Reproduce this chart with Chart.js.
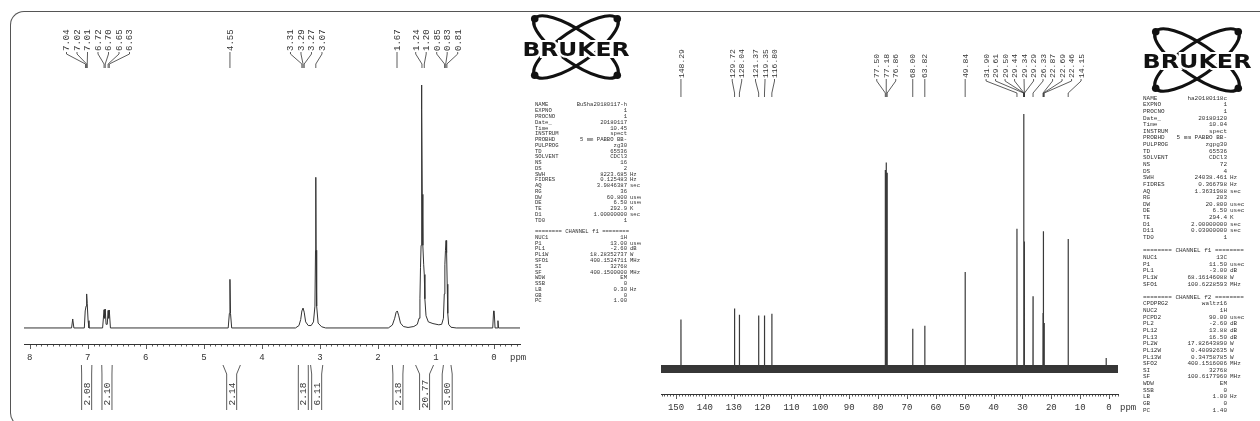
<!DOCTYPE html>
<html>
<head>
<meta charset="utf-8">
<script src="https://cdn.jsdelivr.net/npm/chart.js@4.4.0/dist/chart.umd.min.js"></script>
<style>
html, body { margin: 0; padding: 0; background: #fff; }
body { width: 1260px; height: 421px; position: relative; overflow: hidden; }
#frame { position: absolute; left: 10px; top: 11px; width: 1260px; height: 414px; border: 1.4px solid #555; border-right: none; border-radius: 14px 0 0 14px; }
canvas { position: absolute; top: 0; }
</style>
</head>
<body>
<div id="frame"></div>
<canvas id="deco" width="1260" height="421" style="left:0"></canvas>
<canvas id="proton" width="530" height="421" style="left:0"></canvas>
<canvas id="carbon" width="500" height="421" style="left:640px"></canvas>
<script>
// 1H spectrum, vertices (ppm / relative intensity)
const hPpm = [8.10, 7.28, 7.26, 7.24, 7.06, 7.045, 7.03, 7.02, 7.01, 6.995, 6.98,
  6.745, 6.72, 6.71, 6.70, 6.685, 6.665, 6.65, 6.64, 6.63, 6.61,
  4.58, 4.56, 4.55, 4.54, 4.52,
  3.42, 3.36, 3.33, 3.31, 3.29, 3.27, 3.245, 3.20, 3.15, 3.11, 3.085, 3.075, 3.07, 3.065, 3.055, 3.03, 2.97, 2.90,
  1.82, 1.75, 1.71, 1.685, 1.665, 1.64, 1.61, 1.56, 1.48,
  1.38, 1.32, 1.29, 1.275, 1.265, 1.255, 1.25, 1.245, 1.24, 1.235, 1.225, 1.21, 1.20, 1.19, 1.17, 1.13, 1.05, 0.95, 0.90,
  0.87, 0.855, 0.845, 0.835, 0.825, 0.815, 0.805, 0.795, 0.78, 0.74, 0.65,
  0.02, 0.005, -0.005, -0.02, -0.06, -0.07, -0.08, -0.45];
const hInt = [0, 0, 3.7, 0, 0, 7, 9, 14, 10, 3, 0,
  0, 7.5, 4, 7.8, 1.5, 1.5, 7.2, 4, 7.4, 0,
  0, 6, 20, 6, 0,
  0, 1, 3.5, 7, 8.2, 6.5, 2.5, 1, 1, 2.5, 9, 32, 62, 32, 9, 2, 0.5, 0,
  0, 1.2, 4, 6.5, 7, 5, 2, 0.6, 0.2,
  0.6, 1.5, 4, 12, 25, 34, 60, 100, 90, 55, 34, 26, 22, 12, 5, 2.5, 1.8, 1.3, 1.5,
  4, 14, 26, 32, 36, 31, 18, 6, 1.5, 0.3, 0,
  0, 7, 7, 0, 0, 3, 0, 0];
const hPeakLabels = [7.04, 7.02, 7.01, 6.72, 6.70, 6.65, 6.63, 4.55, 3.31, 3.29, 3.27, 3.07, 1.67, 1.24, 1.20, 0.85, 0.83, 0.81];
const hIntFrom = [7.11, 6.76, 4.67, 3.37, 3.16, 1.75, 1.35, 0.87];
const hIntTo = [6.93, 6.58, 4.37, 3.20, 2.95, 1.56, 1.04, 0.74];
const hIntValues = ['2.08', '2.10', '2.14', '2.18', '6.11', '2.18', '20.77', '3.00'];
const hTicks = [8, 7, 6, 5, 4, 3, 2, 1, 0];

// 13C spectrum, peak lines
const cShift = [148.29, 129.72, 128.04, 121.37, 119.35, 116.80, 77.50, 77.18, 76.86, 68.00, 63.82, 49.84,
  31.90, 29.61, 29.50, 29.44, 29.34, 29.29, 26.33, 22.87, 22.69, 22.46, 14.15, 1.0];
const cHeight = [19.4, 23.7, 21.3, 21, 21, 21.7, 78, 81, 77, 15.8, 17, 38,
  55, 100, 57, 45, 50, 40, 28.5, 22, 54, 18, 51, 4.3];
const cPeakLabels = [148.29, 129.72, 128.04, 121.37, 119.35, 116.80, 77.50, 77.18, 76.86, 68.00, 63.82, 49.84,
  31.90, 29.61, 29.50, 29.44, 29.34, 29.29, 26.33, 22.87, 22.69, 22.46, 14.15];
const cTicks = [150, 140, 130, 120, 110, 100, 90, 80, 70, 60, 50, 40, 30, 20, 10, 0];

const leftParams = ['NAME|BuSha20180117-h|', 'EXPNO|1|', 'PROCNO|1|', 'Date_|20180117|', 'Time|10.45|',
  'INSTRUM|spect|', 'PROBHD|5 mm PABBO BB-|', 'PULPROG|zg30|', 'TD|65536|', 'SOLVENT|CDCl3|', 'NS|16|', 'DS|2|',
  'SWH|8223.685|Hz', 'FIDRES|0.125483|Hz', 'AQ|3.9846387|sec', 'RG|36|', 'DW|60.800|usec', 'DE|6.50|usec',
  'TE|292.9|K', 'D1|1.00000000|sec', 'TD0|1|', '', '======== CHANNEL f1 ========',
  'NUC1|1H|', 'P1|13.00|usec', 'PL1|-2.60|dB', 'PL1W|18.28352737|W', 'SFO1|400.1524711|MHz', 'SI|32768|',
  'SF|400.1500000|MHz', 'WDW|EM|', 'SSB|0|', 'LB|0.30|Hz', 'GB|0|', 'PC|1.00|'];
const rightParams = ['NAME|ha20180118c|', 'EXPNO|1|', 'PROCNO|1|', 'Date_|20180120|', 'Time|10.04|',
  'INSTRUM|spect|', 'PROBHD|5 mm PABBO BB-|', 'PULPROG|zgpg30|', 'TD|65536|', 'SOLVENT|CDCl3|', 'NS|72|', 'DS|4|',
  'SWH|24038.461|Hz', 'FIDRES|0.366798|Hz', 'AQ|1.3631988|sec', 'RG|203|', 'DW|20.800|usec', 'DE|6.50|usec',
  'TE|294.4|K', 'D1|2.00000000|sec', 'D11|0.03000000|sec', 'TD0|1|', '', '======== CHANNEL f1 ========',
  'NUC1|13C|', 'P1|11.50|usec', 'PL1|-3.00|dB', 'PL1W|68.16146088|W', 'SFO1|100.6228593|MHz', '',
  '======== CHANNEL f2 ========', 'CPDPRG2|waltz16|', 'NUC2|1H|', 'PCPD2|90.00|usec', 'PL2|-2.60|dB',
  'PL12|13.88|dB', 'PL13|16.50|dB', 'PL2W|17.82643890|W', 'PL12W|0.40092635|W', 'PL13W|0.34758785|W',
  'SFO2|400.1516006|MHz', 'SI|32768|', 'SF|100.6177960|MHz', 'WDW|EM|', 'SSB|0|', 'LB|1.00|Hz', 'GB|0|', 'PC|1.40|'];

const ink = '#333';
const mono = '"Liberation Mono", "DejaVu Sans Mono", monospace';

// spread overlapping labels into centred groups
function spread(xs, gap) {
  const groups = xs.map(x => ({ sum: x, n: 1 }));
  let changed = true;
  while (changed) {
    changed = false;
    for (let i = 0; i < groups.length - 1; i++) {
      const a = groups[i], b = groups[i + 1];
      const aEnd = a.sum / a.n + (a.n - 1) * gap / 2;
      const bStart = b.sum / b.n - (b.n - 1) * gap / 2;
      if (bStart - aEnd < gap) {
        a.sum += b.sum; a.n += b.n;
        groups.splice(i + 1, 1);
        changed = true;
        break;
      }
    }
  }
  const out = [];
  groups.forEach(g => {
    const start = g.sum / g.n - (g.n - 1) * gap / 2;
    for (let k = 0; k < g.n; k++) out.push(start + k * gap);
  });
  return out;
}

function decorPlugin(cfg) {
  return {
    id: 'decor',
    afterDraw(chart) {
      const ctx = chart.ctx, xs = chart.scales.x, area = chart.chartArea;
      ctx.save();
      ctx.strokeStyle = ink;
      ctx.fillStyle = ink;
      ctx.lineWidth = 0.8;

      // axis ticks
      const first = Math.ceil(xs.min / cfg.minor), last = Math.floor(xs.max / cfg.minor);
      ctx.beginPath();
      for (let i = first; i <= last; i++) {
        const v = i * cfg.minor;
        const x = Math.round(xs.getPixelForValue(v)) + 0.5;
        const r = v / cfg.major;
        const len = Math.abs(r - Math.round(r)) < 1e-6 ? 5 : 2.5;
        ctx.moveTo(x, area.bottom);
        ctx.lineTo(x, area.bottom + len);
      }
      ctx.stroke();

      ctx.font = cfg.tickFont;
      ctx.textAlign = 'left';
      ctx.textBaseline = 'middle';
      ctx.fillText('ppm', area.right + cfg.ppmDx, area.bottom + 14);

      // peak labels
      const px = cfg.labels.map(p => xs.getPixelForValue(p));
      const lx = spread(px, cfg.gap);
      ctx.font = cfg.labelFont;
      cfg.labels.forEach((p, i) => {
        ctx.save();
        ctx.translate(lx[i], cfg.textBottom);
        ctx.rotate(-Math.PI / 2);
        ctx.fillText(p.toFixed(2), 0, 0.5);
        ctx.restore();
        ctx.beginPath();
        ctx.moveTo(lx[i], cfg.textBottom + 1);
        ctx.lineTo(lx[i], cfg.textBottom + 3);
        ctx.lineTo(px[i], cfg.lineEnd - 4);
        ctx.lineTo(px[i], cfg.lineEnd);
        ctx.stroke();
      });

      // integral brackets
      if (cfg.intFrom) {
        ctx.font = cfg.intFont;
        cfg.intFrom.forEach((f, i) => {
          const xl = xs.getPixelForValue(f), xr = xs.getPixelForValue(cfg.intTo[i]);
          const c = (xl + xr) / 2, bl = c - 5, br = c + 5;
          ctx.beginPath();
          ctx.moveTo(xl, 365); ctx.lineTo(bl, 374); ctx.lineTo(bl, 410);
          ctx.moveTo(xr, 365); ctx.lineTo(br, 374); ctx.lineTo(br, 410);
          ctx.stroke();
          ctx.save();
          ctx.translate(c, 394);
          ctx.rotate(-Math.PI / 2);
          ctx.textAlign = 'center';
          ctx.fillText(cfg.intValues[i], 0, 0.5);
          ctx.restore();
        });
      }
      ctx.restore();
    }
  };
}

function xAxis(min, max, ticks, font) {
  return {
    type: 'linear', reverse: true, min: min, max: max,
    border: { display: true, color: ink, width: 1 },
    grid: { drawOnChartArea: false, drawTicks: true, tickLength: 5, color: 'rgba(0,0,0,0)' },
    afterBuildTicks: s => { s.ticks = ticks.map(v => ({ value: v })); },
    afterFit: s => { s.height = 22; },
    ticks: { autoSkip: false, maxRotation: 0, padding: 3, color: ink, font: font }
  };
}

// 1H chart
const hData = hPpm.map((p, i) => ({ x: p, y: hInt[i] }));
new Chart(document.getElementById('proton'), {
  type: 'line',
  data: { datasets: [{ data: hData, borderColor: ink, borderWidth: 1, pointRadius: 0, tension: 0, clip: 6 }] },
  options: {
    responsive: false, animation: false,
    layout: { padding: { left: 24, right: 10, top: 85, bottom: 55 } },
    plugins: { legend: { display: false }, tooltip: { enabled: false } },
    scales: {
      x: xAxis(-0.45, 8.1, hTicks, { family: mono, size: 9 }),
      y: { display: false, min: -6.6, max: 100 }
    }
  },
  plugins: [decorPlugin({
    minor: 0.1, major: 1, tickFont: '9px ' + mono, ppmDx: -10,
    labels: hPeakLabels, gap: 10.5, labelFont: '9px ' + mono, textBottom: 51, lineEnd: 68,
    intFrom: hIntFrom, intTo: hIntTo, intValues: hIntValues, intFont: '9.5px ' + mono
  })]
});

// 13C chart
const cData = [{ x: 155.2, y: 0 }];
cShift.map((p, i) => ({ p: p, h: cHeight[i] })).sort((a, b) => b.p - a.p).forEach(pk => {
  cData.push({ x: pk.p + 0.03, y: 0 }, { x: pk.p, y: pk.h }, { x: pk.p - 0.03, y: 0 });
});
cData.push({ x: -3.1, y: 0 });
new Chart(document.getElementById('carbon'), {
  type: 'line',
  data: {
    datasets: [
      { data: cData, borderColor: '#3a3a3a', borderWidth: 1.2, pointRadius: 0, tension: 0, clip: 6 },
      { data: [{ x: 155.2, y: 0 }, { x: -3.1, y: 0 }], borderColor: '#363636', borderWidth: 8, pointRadius: 0 }
    ]
  },
  options: {
    responsive: false, animation: false,
    layout: { padding: { left: 21, right: 22, top: 114, bottom: 5 } },
    plugins: { legend: { display: false }, tooltip: { enabled: false } },
    scales: {
      x: xAxis(-3.1, 155.2, cTicks, { family: mono, size: 9 }),
      y: { display: false, min: -9.8, max: 100 }
    }
  },
  plugins: [decorPlugin({
    minor: 1, major: 10, tickFont: '9px ' + mono, ppmDx: 2,
    labels: cPeakLabels, gap: 9.5, labelFont: '8px ' + mono, textBottom: 78, lineEnd: 97
  })]
});

// Bruker logos and acquisition parameters
const deco = document.getElementById('deco').getContext('2d');
function drawLogo(cx, cy, ty, w) {
  const ctx = deco;
  ctx.save();
  ctx.strokeStyle = '#111';
  ctx.fillStyle = '#111';
  ctx.lineWidth = 3.2;
  [0.6, -0.6].forEach(a => {
    ctx.beginPath();
    ctx.ellipse(cx, cy, 50, 16, a, 0, Math.PI * 2);
    ctx.stroke();
    [-1, 1].forEach(s => {
      ctx.beginPath();
      ctx.arc(cx + s * 50 * Math.cos(a), cy + s * 50 * Math.sin(a), 3.8, 0, Math.PI * 2);
      ctx.fill();
    });
  });
  ctx.font = 'bold 19px "DejaVu Sans", sans-serif';
  const tw = ctx.measureText('BRUKER').width;
  ctx.translate(cx, ty);
  ctx.scale(w / tw, 1);
  ctx.textAlign = 'center';
  ctx.textBaseline = 'middle';
  ctx.lineWidth = 4;
  ctx.strokeStyle = '#fff';
  ctx.strokeText('BRUKER', 0, 0);
  ctx.fillText('BRUKER', 0, 0);
  ctx.restore();
}
drawLogo(576, 47, 51, 107);
drawLogo(1197, 60, 63, 109);

function drawParams(lines, x0, xv, y0, lh, size, clipRight) {
  const ctx = deco;
  ctx.save();
  ctx.beginPath();
  ctx.rect(x0 - 2, 0, clipRight - x0 + 2, 421);
  ctx.clip();
  ctx.fillStyle = ink;
  ctx.font = size + 'px ' + mono;
  ctx.textBaseline = 'middle';
  lines.forEach((line, i) => {
    const y = y0 + i * lh;
    if (!line) return;
    if (line.indexOf('|') < 0) {
      ctx.textAlign = 'left';
      ctx.fillText(line, x0, y);
      return;
    }
    const parts = line.split('|');
    ctx.textAlign = 'left';
    ctx.fillText(parts[0], x0, y);
    ctx.textAlign = 'right';
    ctx.fillText(parts[1], xv, y);
    if (parts[2]) {
      ctx.textAlign = 'left';
      ctx.fillText(parts[2], xv + 3, y);
    }
  });
  ctx.restore();
}
drawParams(leftParams, 535, 627, 105, 5.76, 5.6, 641);
drawParams(rightParams, 1143, 1227, 98, 6.64, 6, 1260);
</script>
</body>
</html>
